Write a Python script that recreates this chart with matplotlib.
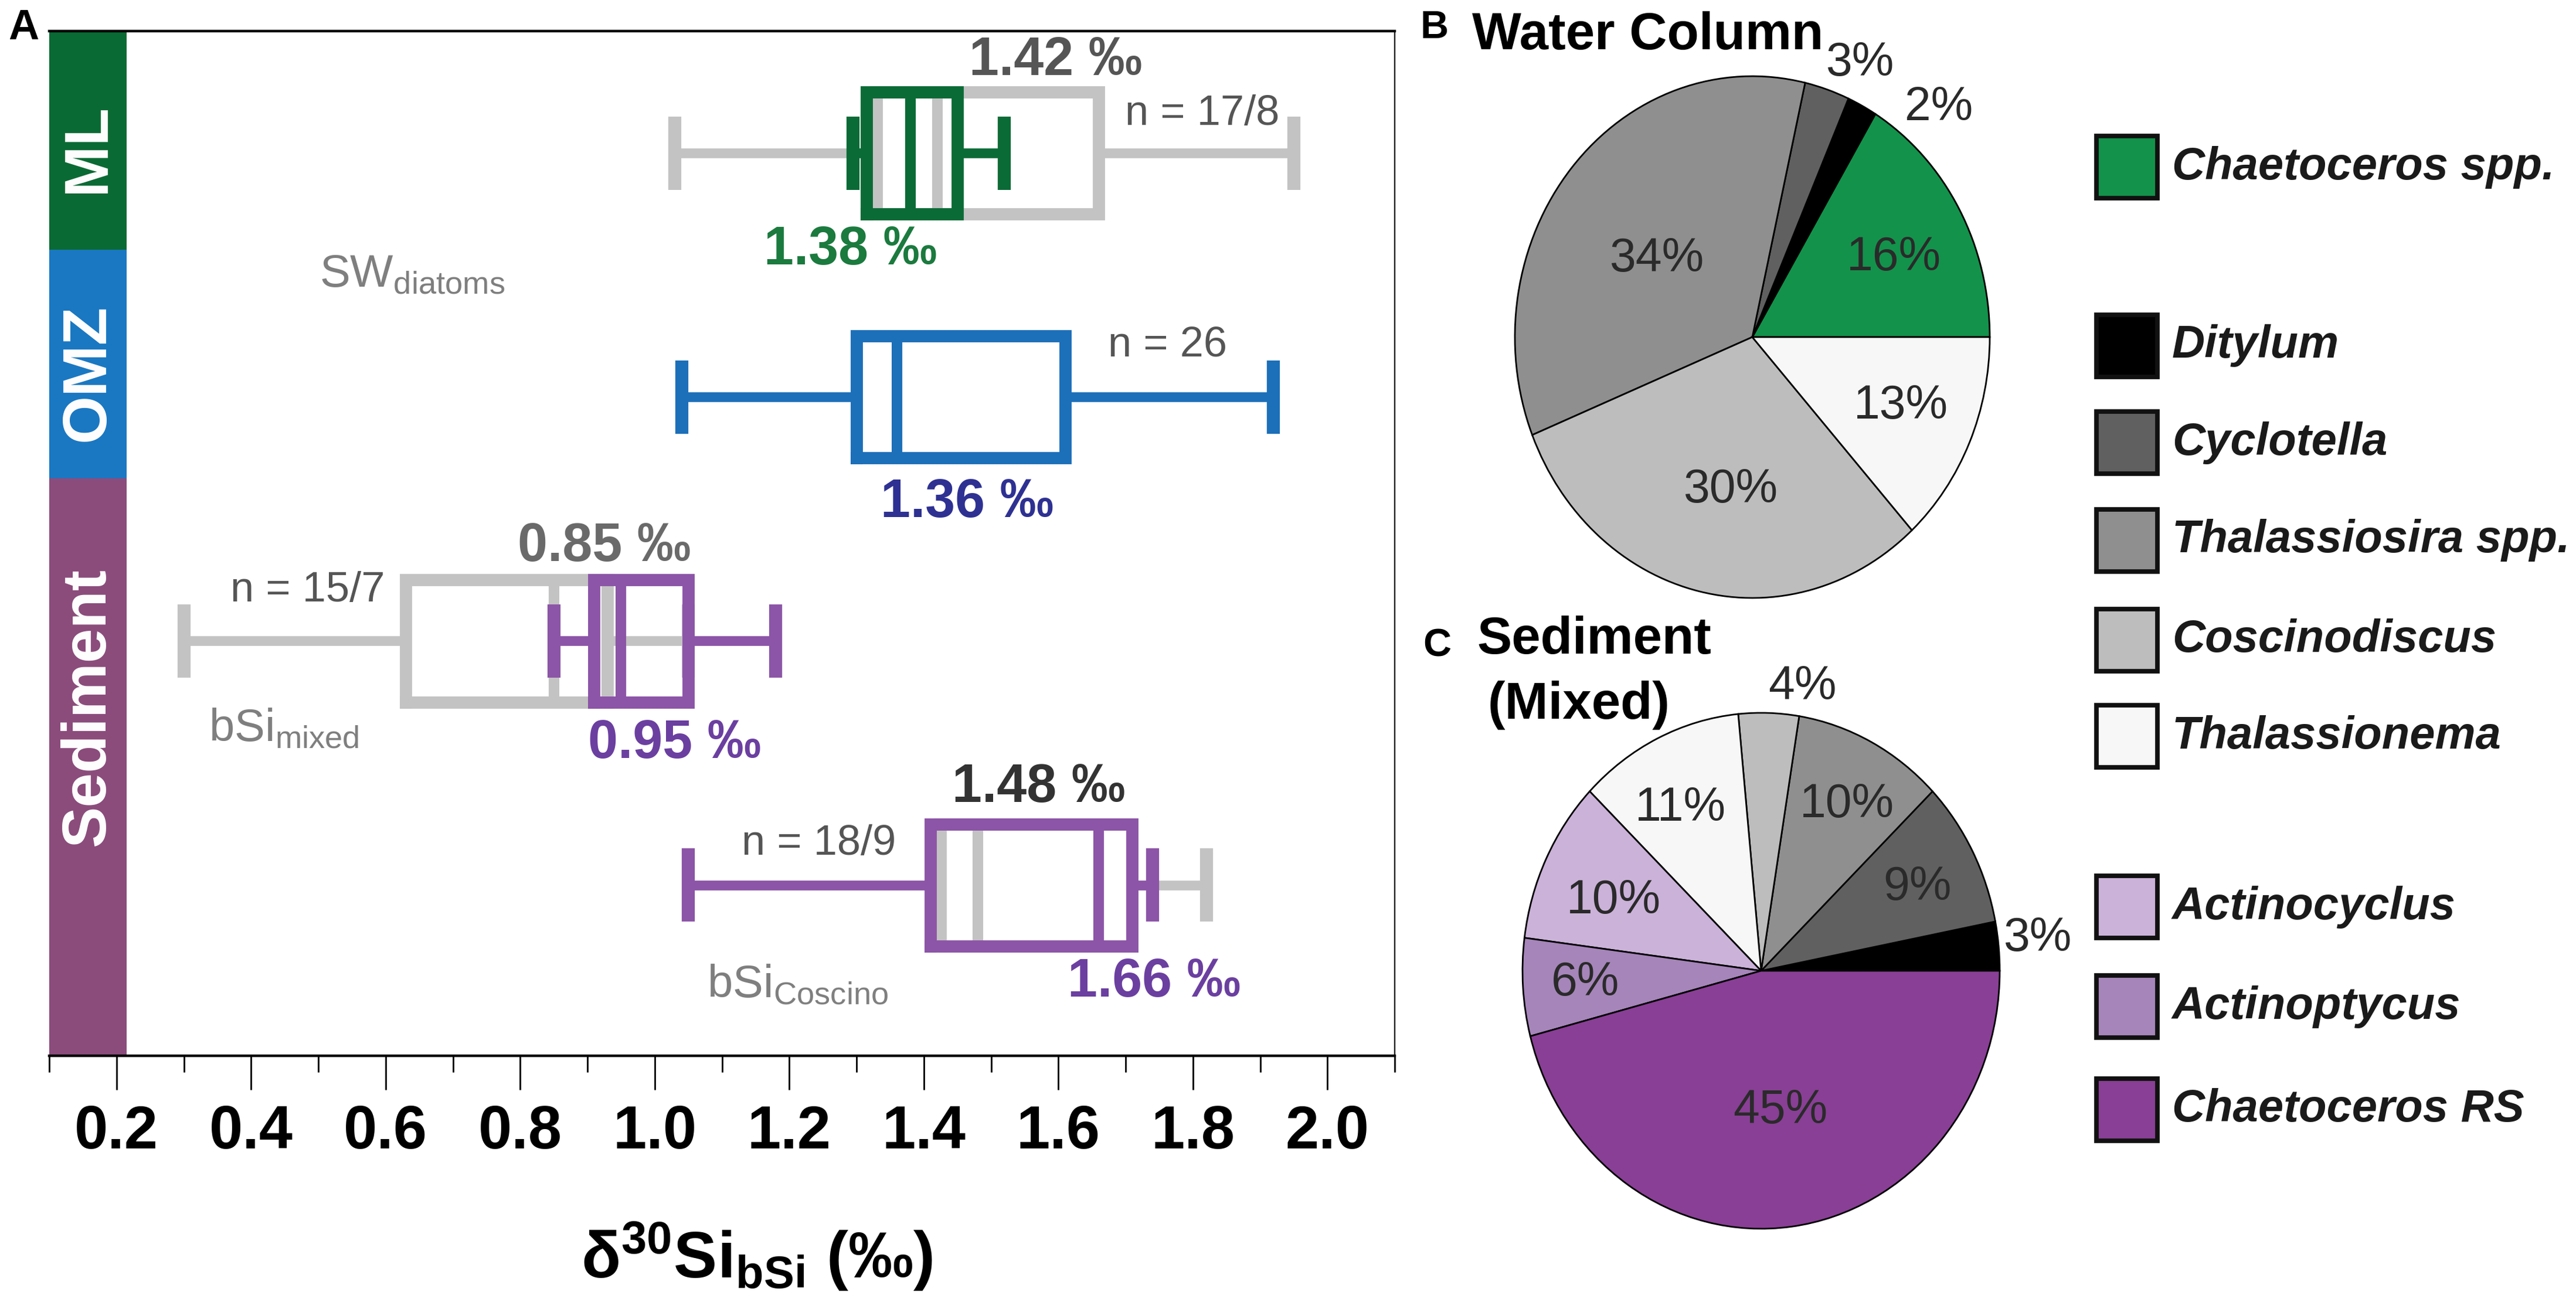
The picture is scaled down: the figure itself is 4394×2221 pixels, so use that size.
import matplotlib
matplotlib.use('Agg')
import matplotlib.pyplot as plt
from matplotlib import font_manager as fm
from matplotlib.patches import Rectangle
from matplotlib.ticker import MultipleLocator, FormatStrFormatter

# fonts: narrow Helvetica-like if available
names = {f.name for f in fm.fontManager.ttflist}
NARROW = 'Liberation Sans Narrow' if 'Liberation Sans Narrow' in names else 'Liberation Sans'
plt.rcParams['font.family'] = ['Liberation Sans', 'DejaVu Sans']
plt.rcParams['mathtext.fontset'] = 'custom'
plt.rcParams['mathtext.rm'] = NARROW
plt.rcParams['mathtext.bf'] = NARROW + ':bold'
plt.rcParams['mathtext.it'] = NARROW + ':italic'

# ---- data: box plot stats (d30Si, permil) ----
groups = ['ML', 'OMZ', 'Sediment mixed', 'Sediment Coscino']
rows = [4, 3, 2, 1]
# gray = bulk / SW, colored = size fraction
gray_min = [1.03, None, 0.30, 1.05]
gray_q1 = [1.33, None, 0.63, 1.425]
gray_med = [1.42, None, 0.85, 1.48]
gray_q3 = [1.66, None, 0.93, 1.71]
gray_max = [1.95, None, 1.05, 1.82]
col_min = [1.295, 1.04, 0.85, 1.05]
col_q1 = [1.315, 1.30, 0.91, 1.41]
col_med = [1.38, 1.36, 0.95, 1.66]
col_q3 = [1.45, 1.61, 1.05, 1.71]
col_max = [1.52, 1.92, 1.18, 1.74]
n_labels = ['n = 17/8', 'n = 26', 'n = 15/7', 'n = 18/9']

# ---- data: pies ----
wc_species = ['Chaetoceros spp.', 'Ditylum', 'Cyclotella', 'Thalassiosira spp.',
              'Coscinodiscus', 'Thalassionema']
wc_pct = [16, 2, 3, 34, 30, 13]
sed_species = ['Ditylum', 'Cyclotella', 'Thalassiosira spp.', 'Coscinodiscus',
               'Thalassionema', 'Actinocyclus', 'Actinoptycus', 'Chaetoceros RS']
sed_pct = [3, 9, 10, 4, 11, 10, 6, 45]
legend_order = ['Chaetoceros spp.', None, 'Ditylum', 'Cyclotella', 'Thalassiosira spp.',
                'Coscinodiscus', 'Thalassionema', None, 'Actinocyclus', 'Actinoptycus',
                'Chaetoceros RS']

species_colors = {
    'Chaetoceros spp.': '#13924b', 'Ditylum': '#000000', 'Cyclotella': '#606060',
    'Thalassiosira spp.': '#8f8f8f', 'Coscinodiscus': '#bdbdbd', 'Thalassionema': '#f7f7f7',
    'Actinocyclus': '#cbb2d9', 'Actinoptycus': '#a685ba', 'Chaetoceros RS': '#893f95',
}
box_colors = ['#0b6b36', '#1c6fb9', '#8c55a7', '#8c55a7']
gray_c = '#c3c3c3'

W, H = 4394, 2221
fig = plt.figure(figsize=(W / 200, H / 200), dpi=200)

# ================= panel A =================
ax = fig.add_axes([84 / W, 1 - 1801 / H, 2295 / W, 1748 / H])
ax.set_xlim(0.1, 2.1)
ax.set_ylim(0.3, 4.5)


def draw_box(i, q1, med, q3, lo, hi, c, z):
    st = [dict(med=med, q1=q1, q3=q3, whislo=lo, whishi=hi, fliers=[])]
    ax.bxp(st, positions=[rows[i]], widths=0.5, capwidths=0.3,
           orientation='horizontal', showfliers=False, manage_ticks=False, zorder=z,
           boxprops=dict(color=c, linewidth=7.5, solid_joinstyle='miter',
                         solid_capstyle='projecting'),
           whiskerprops=dict(color=c, linewidth=6, solid_capstyle='butt'),
           capprops=dict(color=c, linewidth=8, solid_capstyle='butt'),
           medianprops=dict(color=c, linewidth=6.5, solid_capstyle='butt'))


for i in range(4):
    if gray_med[i] is not None:
        draw_box(i, gray_q1[i], gray_med[i], gray_q3[i], gray_min[i], gray_max[i], gray_c, 2)
for i in range(4):
    draw_box(i, col_q1[i], col_med[i], col_q3[i], col_min[i], col_max[i], box_colors[i], 3)

# colored side bands
bands = [('ML', 3.603, 4.5, '#0a6a34', 4.02), ('OMZ', 2.666, 3.603, '#1a78c2', 3.10),
         ('Sediment', 0.3, 2.666, '#8b4c7c', 1.73)]
for lab, y0, y1, c, yt in bands:
    ax.add_patch(Rectangle((0.1, y0), 0.115, y1 - y0, facecolor=c, edgecolor='none', zorder=1))
    ax.text(0.158, yt, lab, rotation=90, ha='center', va='center', color='white',
            fontsize=38, fontweight='bold')

# value and n labels
nf = [NARROW, 'DejaVu Sans']
ax.text(1.596, 4.377, f'{gray_med[0]:.2f} ‰', color='#555555', fontsize=33, fontweight='bold', family=nf, ha='center', va='center')
ax.text(1.291, 3.601, f'{col_med[0]:.2f} ‰', color='#1b7a3e', fontsize=33, fontweight='bold', family=nf, ha='center', va='center')
ax.text(1.464, 2.565, f'{col_med[1]:.2f} ‰', color='#2e3192', fontsize=33, fontweight='bold', family=nf, ha='center', va='center')
ax.text(0.925, 2.385, f'{gray_med[2]:.2f} ‰', color='#6a6a6a', fontsize=33, fontweight='bold', family=nf, ha='center', va='center')
ax.text(1.030, 1.579, f'{col_med[2]:.2f} ‰', color='#6b3fa0', fontsize=33, fontweight='bold', family=nf, ha='center', va='center')
ax.text(1.571, 1.397, f'{gray_med[3]:.2f} ‰', color='#333333', fontsize=33, fontweight='bold', family=nf, ha='center', va='center')
ax.text(1.742, 0.601, f'{col_med[3]:.2f} ‰', color='#6b3fa0', fontsize=33, fontweight='bold', family=nf, ha='center', va='center')

n_pos = [(1.699, 4.159), (1.674, 3.212), (0.369, 2.207), (1.129, 1.168)]
for (x, y), t in zip(n_pos, n_labels):
    ax.text(x, y, t, color='#555555', fontsize=26, family=nf, ha='left', va='center')

ax.text(0.502, 3.50, r'SW$_{\mathrm{diatoms}}$', color='#7f7f7f', fontsize=28, family=nf, ha='left', va='center')
ax.text(0.337, 1.64, r'bSi$_{\mathrm{mixed}}$', color='#7f7f7f', fontsize=28, family=nf, ha='left', va='center')
ax.text(1.078, 0.59, r'bSi$_{\mathrm{Coscino}}$', color='#7f7f7f', fontsize=28, family=nf, ha='left', va='center')

# axes styling
ax.set_yticks([])
ax.xaxis.set_major_locator(MultipleLocator(0.2))
ax.xaxis.set_minor_locator(MultipleLocator(0.1))
ax.xaxis.set_major_formatter(FormatStrFormatter('%.1f'))
ax.set_xticks([0.2 * k for k in range(1, 11)])
ax.tick_params(axis='x', which='major', direction='out', length=21, width=1.0, pad=9,
               labelsize=37)
ax.tick_params(axis='x', which='minor', direction='out', length=10, width=1.0)
for lbl in ax.get_xticklabels():
    lbl.set_fontweight('bold')
    lbl.set_family(nf)
ax.spines['left'].set_visible(False)
ax.spines['top'].set_linewidth(1.6)
ax.spines['bottom'].set_linewidth(1.6)
ax.spines['right'].set_linewidth(0.8)
ax.set_xlabel(r'δ$^{\mathbf{30}}$Si$_{\mathbf{bSi}}$ (‰)', fontsize=40, fontweight='bold',
              family=nf, va='center')
ax.xaxis.set_label_coords(0.526, -0.196)

fig.text(14 / W, 1 - 67 / H, 'A', fontsize=26, fontweight='bold', family=nf, ha='left', va='baseline')


# ================= pies =================
def ellipse_pie(bbox, pct, species, label_xy):
    x0, y0, x1, y1 = bbox
    pa = fig.add_axes([x0 / W, 1 - y1 / H, (x1 - x0) / W, (y1 - y0) / H])
    wedges, _ = pa.pie(pct, colors=[species_colors[s] for s in species], startangle=0,
                       counterclock=True, radius=1,
                       wedgeprops=dict(edgecolor='black', linewidth=1.0))
    for w in wedges:
        w.set_clip_on(False)
    pa.set_aspect('auto')
    pa.set_xlim(-1, 1)
    pa.set_ylim(-1, 1)
    for (lx, ly), p in zip(label_xy, pct):
        pa.text(lx, ly, f'{p}%', ha='center', va='center', fontsize=29, color='#2a2a2a',
                clip_on=False)
    return pa


wc_label_xy = [(0.595, 0.303), (0.785, 0.879), (0.454, 1.05), (-0.40, 0.30),
               (-0.09, -0.587), (0.627, -0.265)]
sed_label_xy = [(1.16, 0.125), (0.654, 0.323), (0.359, 0.643), (0.174, 1.10),
                (-0.337, 0.63), (-0.617, 0.27), (-0.737, -0.048), (0.081, -0.543)]
ellipse_pie((2584, 130, 3394, 1020), wc_pct, wc_species, wc_label_xy)
ellipse_pie((2597, 1216, 3411, 2096), sed_pct, sed_species, sed_label_xy)

# panel titles
fig.text(2423 / W, 1 - 65 / H, 'B', fontsize=24, fontweight='bold', ha='left', va='baseline')
fig.text(2511 / W, 1 - 84 / H, 'Water Column', fontsize=32, fontweight='bold', family=nf,
         ha='left', va='baseline')
fig.text(2427 / W, 1 - 1119 / H, 'C', fontsize=24, fontweight='bold', ha='left', va='baseline')
fig.text(2519 / W, 1 - 1115 / H, 'Sediment', fontsize=32, fontweight='bold', family=nf,
         ha='left', va='baseline')
fig.text(2538 / W, 1 - 1226 / H, '(Mixed)', fontsize=32, fontweight='bold', family=nf,
         ha='left', va='baseline')

# legend
leg_y = [285, None, 590, 755, 922, 1092, 1256, None, 1547, 1717, 1893]
for name, yc in zip(legend_order, leg_y):
    if name is None:
        continue
    fig.add_artist(Rectangle((3576 / W, 1 - (yc + 53) / H), 104 / W, 106 / H,
                             transform=fig.transFigure, facecolor=species_colors[name],
                             edgecolor='#111111', linewidth=2.8))
    fig.text(3705 / W, 1 - yc / H, name, fontsize=28, fontweight='bold', style='italic',
             ha='left', va='center', color='#1a1a1a')

fig.savefig('out.png', dpi=200)
